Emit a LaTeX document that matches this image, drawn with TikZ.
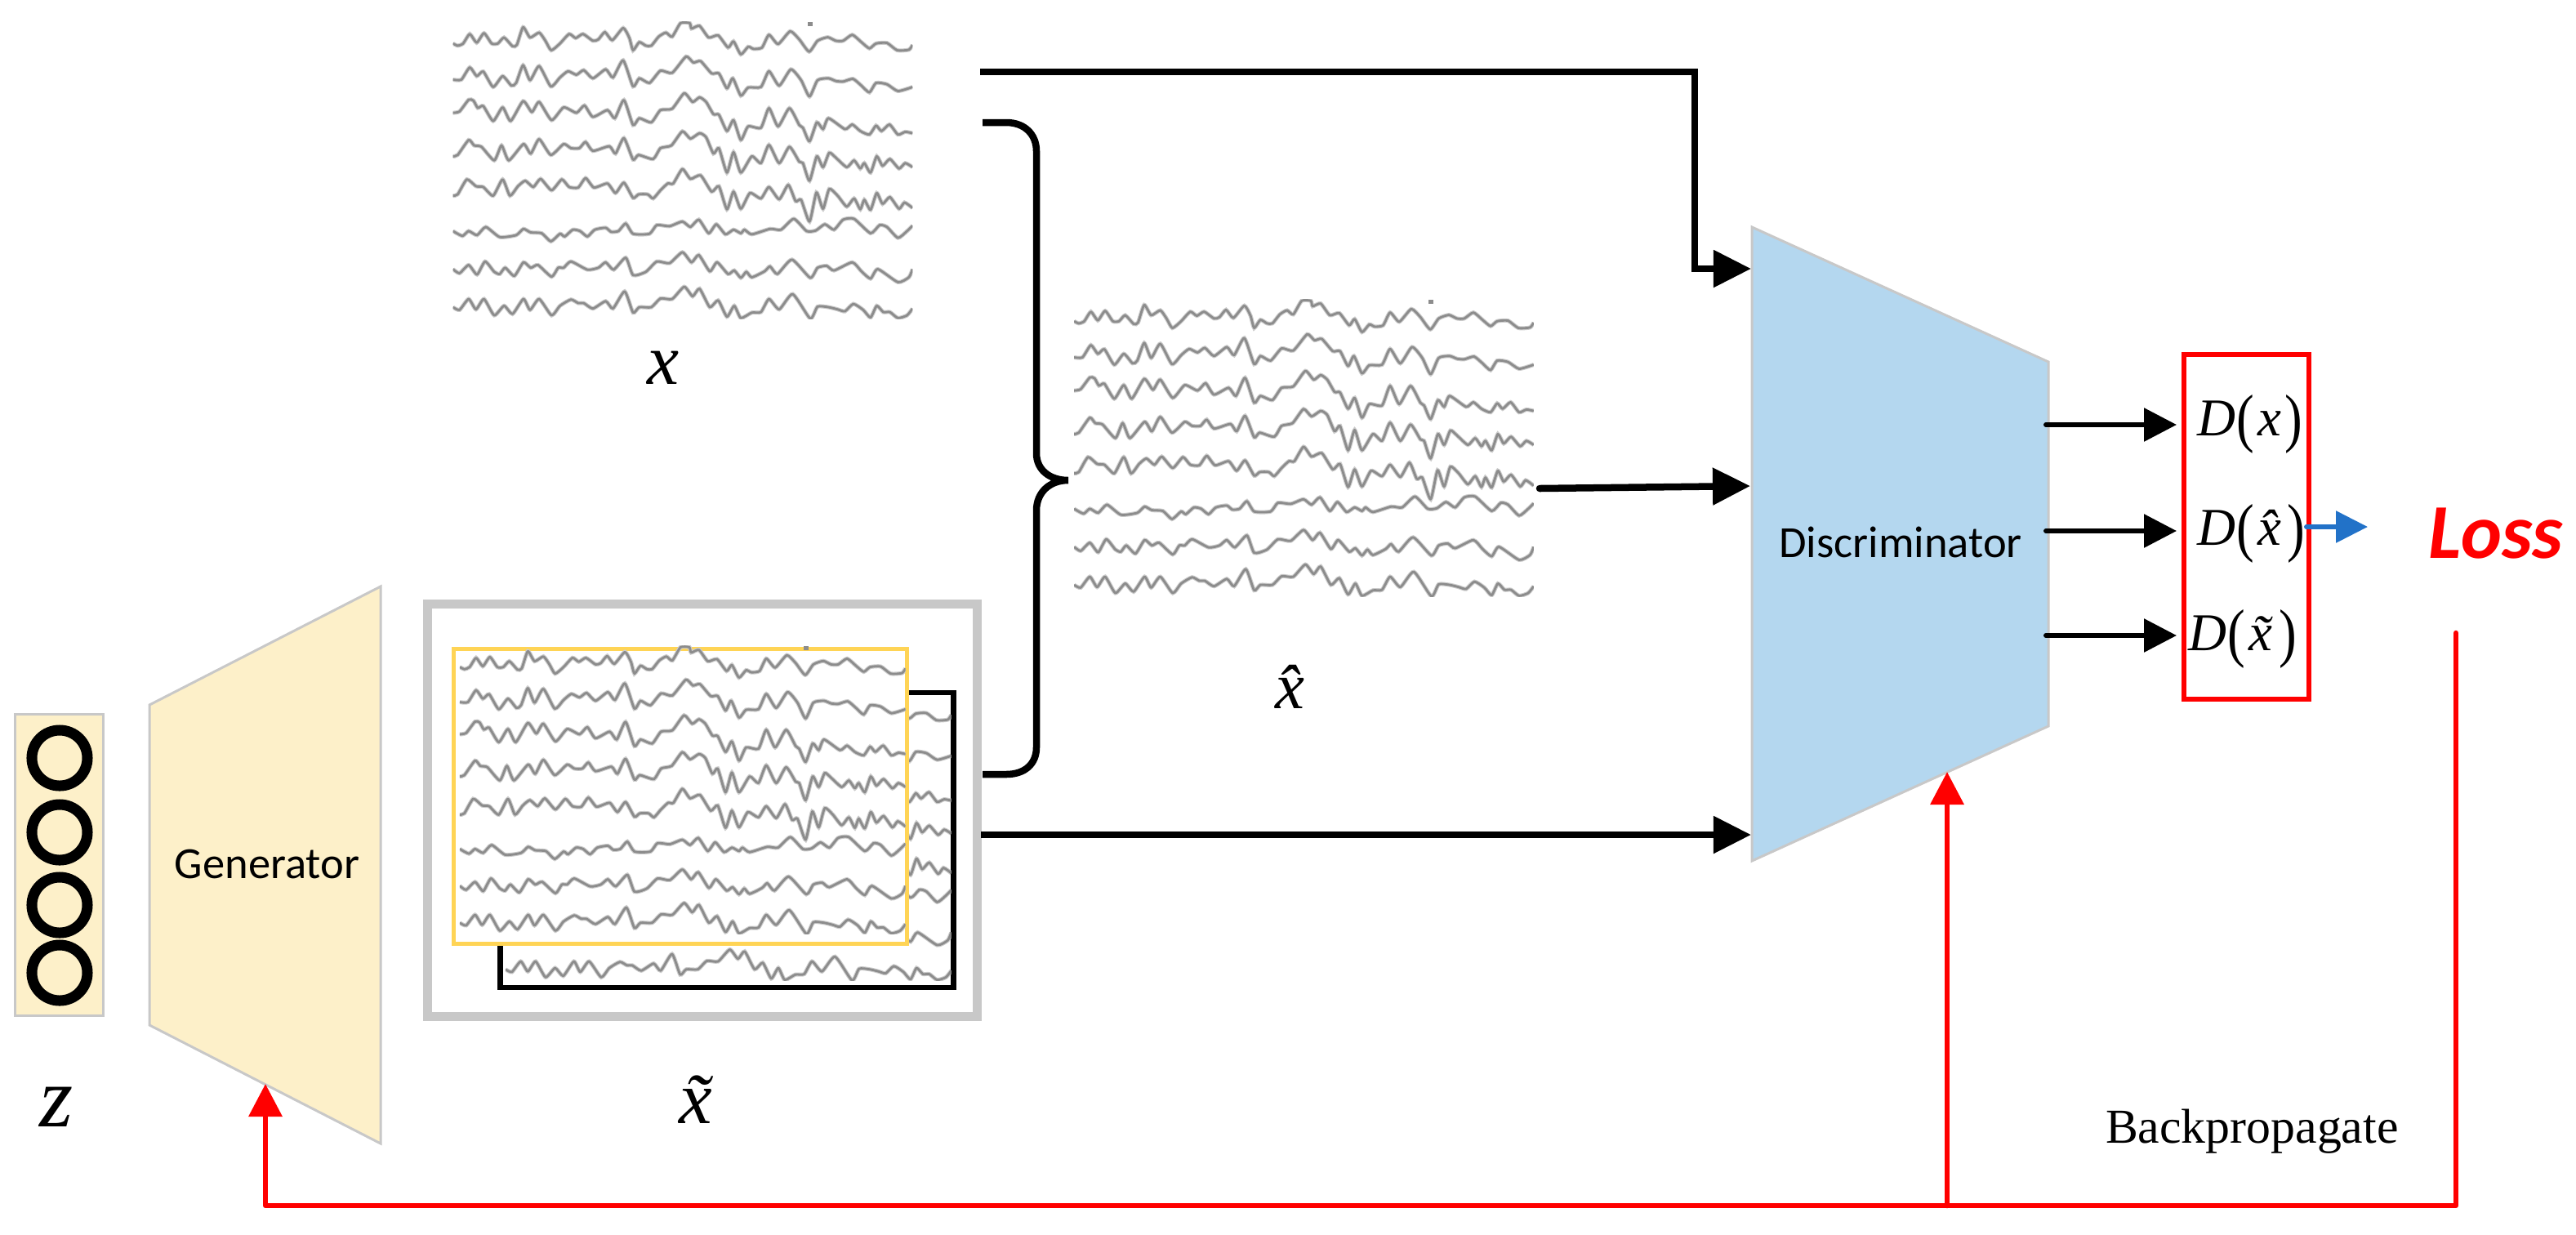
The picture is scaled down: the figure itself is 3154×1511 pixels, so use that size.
\documentclass[tikz,border=0pt]{standalone}
\usepackage{graphicx}
\usepackage{fontspec}
\setmainfont{Liberation Serif}
\newfontfamily\calibrifont{Carlito}
\usetikzlibrary{arrows.meta}
\definecolor{genfill}{HTML}{FDF0C9}
\definecolor{discfill}{HTML}{B4D7EF}
\definecolor{edgegrey}{HTML}{C8C8C8}
\definecolor{boxyellow}{HTML}{FFD455}
\definecolor{traceg}{HTML}{8C8C8C}
\definecolor{traceh}{HTML}{CCCCCC}
\definecolor{lossblue}{HTML}{2272C8}
\definecolor{lossred}{HTML}{FF0000}
\newcommand\sz[1]{\fontsize{#1}{#1}\selectfont}
\newcommand\accx[1]{\textit{x\char"#1\relax}}
\newcommand\tallparen[1]{\raisebox{-.09em}{\scalebox{1}[1.22]{#1}}}
\newcommand\Dof[1]{\textit{D}\kern.03em\tallparen{(}\kern.06em#1\kern.06em\tallparen{)}}
\newcommand\eegtraces{%
\draw[trace] plot[smooth,tension=.35] coordinates {(122,160)(135,168)(150,160)(168,125)(187,157)(207,122)(228,160)(245,160)(262,138)(285,170)(297,165)(314,100)(333,138)(358,120)(375,150)(391,185)(415,160)(440,125)(458,140)(478,125)(505,150)(520,145)(538,118)(558,148)(588,103)(605,140)(615,185)(632,155)(650,168)(665,168)(685,135)(705,120)(722,135)(745,85)(770,85)(775,105)(797,95)(822,138)(848,130)(875,175)(890,152)(910,200)(930,172)(945,180)(968,175)(987,128)(1012,162)(1045,115)(1070,145)(1097,190)(1120,150)(1148,137)(1170,150)(1190,150)(1215,128)(1240,155)(1262,178)(1280,160)(1310,158)(1338,185)(1370,183)(1380,165)};
\draw[trace] plot[smooth,tension=.35] coordinates {(122,293)(145,293)(168,248)(187,280)(205,263)(232,320)(258,280)(282,315)(295,305)(314,240)(333,295)(358,243)(390,318)(415,285)(437,262)(460,275)(480,258)(505,288)(540,255)(560,285)(588,222)(615,318)(632,288)(660,305)(690,260)(722,268)(760,208)(780,230)(800,225)(830,270)(850,270)(872,325)(888,288)(910,352)(930,322)(965,320)(987,262)(1015,315)(1047,255)(1075,295)(1098,355)(1120,295)(1150,288)(1170,298)(1190,300)(1217,290)(1240,315)(1262,340)(1280,305)(1310,310)(1340,335)(1380,320)};
\draw[trace] plot[smooth,tension=.35] coordinates {(122,415)(140,410)(165,367)(178,370)(190,397)(205,390)(232,445)(258,395)(280,445)(314,372)(338,412)(358,375)(392,442)(425,395)(460,415)(482,388)(505,430)(545,405)(565,435)(590,368)(615,460)(632,435)(665,450)(690,405)(722,400)(755,343)(778,375)(797,358)(815,375)(835,420)(850,422)(872,482)(890,442)(910,515)(930,465)(965,470)(987,398)(1012,465)(1043,398)(1070,460)(1080,470)(1098,520)(1118,450)(1135,475)(1150,435)(1195,475)(1215,458)(1237,482)(1262,495)(1280,462)(1295,482)(1317,458)(1340,495)(1360,485)(1380,490)};
\draw[trace] plot[smooth,tension=.35] coordinates {(122,575)(135,570)(165,515)(180,535)(200,540)(235,590)(255,535)(275,590)(315,530)(335,565)(358,512)(390,570)(425,530)(445,545)(468,545)(485,522)(505,555)(550,538)(567,565)(590,508)(615,587)(630,570)(670,585)(690,545)(720,535)(750,483)(772,510)(797,490)(815,505)(835,565)(850,545)(872,635)(890,560)(910,635)(940,575)(965,600)(987,533)(1015,600)(1043,540)(1070,595)(1080,600)(1098,665)(1118,575)(1135,615)(1152,562)(1170,580)(1200,615)(1220,590)(1237,620)(1248,600)(1265,635)(1282,575)(1298,610)(1318,585)(1343,620)(1360,600)(1380,615)};
\draw[trace] plot[smooth,tension=.35] coordinates {(122,720)(135,715)(160,660)(185,685)(205,688)(232,720)(258,660)(278,720)(300,685)(320,665)(342,688)(362,658)(392,700)(420,660)(440,688)(465,690)(485,655)(508,690)(545,675)(567,710)(590,672)(615,728)(630,715)(655,715)(670,730)(690,700)(710,675)(725,675)(750,622)(772,658)(800,645)(830,705)(850,685)(872,770)(890,705)(910,768)(935,710)(965,730)(987,688)(1015,733)(1040,680)(1060,740)(1075,735)(1098,815)(1117,708)(1135,768)(1152,695)(1175,720)(1200,760)(1220,730)(1237,770)(1248,735)(1265,772)(1282,710)(1298,750)(1318,725)(1343,768)(1358,745)(1380,765)};
\draw[trace] plot[smooth,tension=.35] coordinates {(122,850)(148,868)(165,850)(188,865)(212,835)(250,872)(295,865)(315,842)(335,855)(365,858)(390,888)(415,860)(428,870)(450,845)(470,850)(490,870)(510,845)(540,838)(555,853)(575,850)(595,822)(615,860)(660,860)(680,828)(715,832)(750,815)(772,835)(795,808)(822,858)(843,825)(868,862)(890,845)(910,858)(920,845)(940,862)(990,842)(1020,845)(1055,805)(1090,850)(1115,848)(1140,825)(1165,845)(1190,808)(1220,805)(1265,858)(1290,828)(1310,835)(1340,875)(1365,850)(1380,830)};
\draw[trace] plot[smooth,tension=.35] coordinates {(122,990)(140,1005)(165,975)(188,1010)(210,962)(235,1000)(250,1008)(265,985)(290,1015)(315,965)(335,985)(355,975)(392,1018)(410,985)(425,985)(445,962)(490,992)(520,985)(540,965)(562,992)(595,948)(615,1012)(650,1000)(680,962)(715,968)(750,928)(775,965)(795,938)(825,998)(845,965)(875,1008)(892,995)(910,1022)(925,1000)(940,1020)(975,998)(990,980)(1010,1008)(1050,955)(1100,1022)(1120,985)(1145,978)(1165,995)(1215,965)(1240,998)(1265,1025)(1285,990)(1340,1038)(1370,1020)(1380,990)};
\draw[trace] plot[smooth,tension=.35] coordinates {(122,1130)(140,1140)(165,1100)(185,1138)(207,1100)(235,1160)(262,1125)(285,1155)(315,1100)(333,1140)(358,1100)(392,1160)(415,1125)(445,1102)(465,1115)(480,1115)(505,1135)(540,1108)(560,1135)(592,1072)(615,1150)(632,1130)(665,1130)(690,1098)(722,1100)(755,1055)(778,1090)(797,1062)(825,1130)(848,1105)(872,1165)(892,1125)(910,1170)(940,1150)(965,1148)(987,1100)(1015,1138)(1052,1082)(1100,1172)(1120,1128)(1150,1130)(1175,1138)(1195,1145)(1218,1118)(1245,1140)(1265,1168)(1282,1125)(1300,1148)(1318,1148)(1340,1170)(1365,1160)(1380,1135)};
\fill[traceg] (1093,82) rectangle (1106,96);
}
\newcommand\eeg[3]{%
\begin{scope}[shift={(#1,#2)},x=#3*0.004464cm,y=-#3*0.003333cm]
\clip (122,80) rectangle (1380,1172);
\eegtraces
\end{scope}}
\tikzset{
  trace/.style={preaction={draw=traceh,line width=.05cm},draw=traceg,line width=.028cm,line join=round},
  shapeedge/.style={draw=edgegrey,line width=.03cm},
  zcircle/.style={circle,draw=black,line width=.13cm,minimum size=.68cm,inner sep=0pt},
  plainbox/.style={inner sep=0pt,outer sep=0pt},
  conn/.style={draw=black,line width=.085cm,line join=miter},
  bighead/.style={-{Triangle[length=.46cm,width=.44cm]}},
  outarrow/.style={draw=black,line width=.06cm,line cap=round,-{Triangle[length=.40cm,width=.40cm]}},
  bluearrow/.style={draw=lossblue,line width=.06cm,line cap=round,-{Triangle[length=.39cm,width=.38cm,fill=lossblue]}},
  redline/.style={draw=lossred,line width=.065cm,line cap=round,line join=round},
  redhead/.style={-{Triangle[length=.40cm,width=.40cm,fill=lossred]}},
  lab/.style={inner sep=0pt,outer sep=0pt,anchor=base west},
  calib/.style={inner sep=0pt,font=\calibrifont\sz{15.5}},
}
\begin{document}
\begin{tikzpicture}[x=0.01cm,y=-0.01cm]
\useasboundingbox (0,0) rectangle (3154,1511);
% latent vector
\node[plainbox,fill=genfill,shapeedge,minimum width=1.07cm,minimum height=3.68cm] (zbox) at (72.5,1059) {};
\node[zcircle] (c1) at (73,928) {};
\node[zcircle] (c2) at (73,1019) {};
\node[zcircle] (c3) at (73,1108) {};
\node[zcircle] (c4) at (73,1191) {};
\node[lab] (zlab) at (48,1379) {\sz{30}\textit{z}};
% generator
\coordinate (gTL) at (183,863);
\coordinate (gTR) at (466,718);
\coordinate (gBR) at (466,1400);
\coordinate (gBL) at (183,1255);
\coordinate (gHit) at (325,1327);
\fill[genfill] (gTL) -- (gTR) -- (gBR) -- (gBL) -- cycle;
\draw[shapeedge] (gTL) -- (gTR) -- (gBR) -- (gBL) -- cycle;
\node[calib] (gen) at (327,1058) {Generator};
% real signal
\eeg{500}{0}{1}
\node[lab] (xlab) at (792,470) {\sz{25}\textit{x}};
% generated stack
\node[plainbox,draw=edgegrey,line width=.11cm,fill=white,minimum width=6.73cm,minimum height=5.04cm] (gbox) at (860,992) {};
\node[plainbox,draw=black,line width=.065cm,fill=white,minimum width=5.55cm,minimum height=3.61cm] (backbox) at (890,1028.5) {};
\begin{scope}
\clip (612,848) rectangle (1168,1209);
\eeg{566}{822}{.97}
\end{scope}
\node[plainbox,draw=boxyellow,line width=.055cm,fill=white,minimum width=5.55cm,minimum height=3.61cm] (frontbox) at (833,975) {};
\eeg{510}{765}{.97}
\node[lab] (tlab) at (831,1375) {\sz{26}\accx{0303}};
% mixed signal
\eeg{1260.5}{340}{1}
\node[lab] (hlab) at (1561,867) {\sz{23}\accx{0302}};
% discriminator
\coordinate (dTL) at (2145,278);
\coordinate (dTR) at (2508,443);
\coordinate (dBR) at (2508,889);
\coordinate (dBL) at (2145,1054);
\coordinate (dHit) at (2384,945);
\fill[discfill] (dTL) -- (dTR) -- (dBR) -- (dBL) -- cycle;
\draw[shapeedge] (dTL) -- (dTR) -- (dBR) -- (dBL) -- cycle;
\node[calib] (disc) at (2327,664) {Discriminator};
% output box
\node[plainbox,draw=lossred,line width=.06cm,minimum width=1.53cm,minimum height=4.22cm] (dbox) at (2750.5,645) {};
\node[lab] (dx) at (2690,533) {\sz{18.5}\Dof{\textit{x}}};
\node[lab] (dh) at (2690,667) {\sz{18.5}\Dof{\accx{0302}\kern-.33em}};
\node[lab] (dt) at (2679,796) {\sz{18.5}\Dof{\accx{0303}\kern-.33em}};
\node[lab,text=lossred,font=\calibrifont\bfseries\itshape\sz{27}] (loss) at (2973,683) {Loss};
\node[lab] (bp) at (2578,1399) {\sz{17}Backpropagate};
% connectors
\coordinate (xOut) at (1200,88);
\coordinate (xCorner) at (2075,88);
\coordinate (xIn0) at (2075,329);
\coordinate (xIn) at (2144,329);
\draw[conn,bighead] (xOut) -- (xCorner) -- (xIn0) -- (xIn);
\coordinate (hOut) at (1885,598);
\coordinate (hIn) at (2143,595);
\draw[conn,line cap=round,bighead] (hOut) -- (hIn);
\coordinate (tOut) at (1201,1022);
\coordinate (tIn) at (2144,1022);
\draw[conn,bighead] (tOut) -- (tIn);
\coordinate (bA) at (1203,150);
\coordinate (bB) at (1269,185);
\coordinate (bC) at (1269,555);
\coordinate (bTip) at (1308,588);
\coordinate (bD) at (1269,625);
\coordinate (bE) at (1269,915);
\coordinate (bF) at (1203,948);
\draw[conn,line join=bevel] (bA) -- (1232,150) .. controls (1255,150) and (1269,165) .. (bB) -- (bC) .. controls (1269,575) and (1285,588) .. (bTip) .. controls (1285,588) and (1269,603) .. (bD) -- (bE) .. controls (1269,935) and (1255,948) .. (1232,948) -- (bF);
\coordinate (o1) at (2505,520);
\coordinate (o1e) at (2665,520);
\coordinate (o2) at (2505,650);
\coordinate (o2e) at (2665,650);
\coordinate (o3) at (2505,778);
\coordinate (o3e) at (2665,778);
\draw[outarrow] (o1) -- (o1e);
\draw[outarrow] (o2) -- (o2e);
\draw[outarrow] (o3) -- (o3e);
\coordinate (bS) at (2824,645);
\coordinate (bT) at (2899,645);
\draw[bluearrow] (bS) -- (bT);
\coordinate (rS) at (3007,775);
\coordinate (rC) at (3007,1476);
\coordinate (rJ) at (2384,1476);
\coordinate (rL) at (325,1476);
\draw[redline,redhead] (rS) -- (rC) -- (rL) -- (gHit);
\draw[redline,redhead] (rJ) -- (dHit);
\end{tikzpicture}
\end{document}
